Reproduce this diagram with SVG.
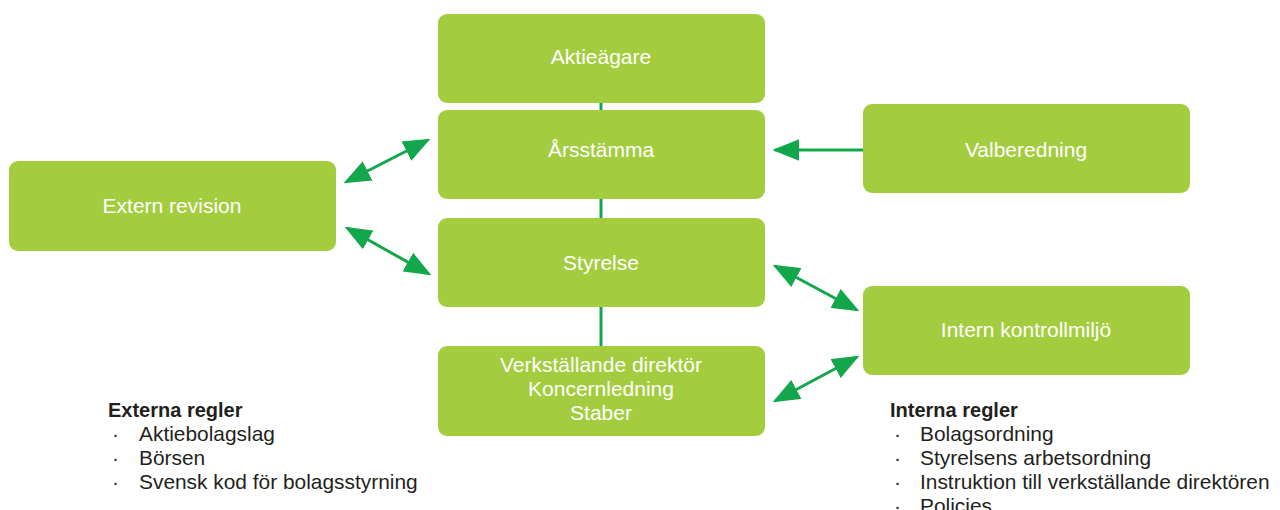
<svg xmlns="http://www.w3.org/2000/svg" width="1280" height="510" viewBox="0 0 1280 510">
<style>
.box{fill:#a3cd3e}
.bt{fill:#ffffff;font-family:"Liberation Sans",Arial,sans-serif;font-size:21px;text-anchor:middle}
.conn{stroke:#12a74b;stroke-width:3;fill:none}
.vl{stroke:#12a74b;stroke-width:3}
.h{fill:#231f20;font-family:"Liberation Sans",Arial,sans-serif;font-size:20px;font-weight:bold}
.li{fill:#231f20;font-family:"Liberation Sans",Arial,sans-serif;font-size:20.9px}
</style>
<defs>
<marker id="ah" viewBox="0 0 10 8" refX="9" refY="4" markerWidth="9" markerHeight="7.2" markerUnits="strokeWidth" orient="auto-start-reverse">
<path d="M0,0 L10,4 L0,8 Z" fill="#12a74b"/>
</marker>
</defs>
<rect width="1280" height="510" fill="#ffffff"/>
<g id="connectors">
<line class="vl" x1="601" y1="103" x2="601" y2="110"/>
<line class="vl" x1="601" y1="199" x2="601" y2="218"/>
<line class="vl" x1="601" y1="307" x2="601" y2="346"/>
<line class="conn" x1="346" y1="182" x2="428" y2="140" marker-start="url(#ah)" marker-end="url(#ah)"/>
<line class="conn" x1="347" y1="228" x2="429" y2="274" marker-start="url(#ah)" marker-end="url(#ah)"/>
<line class="conn" x1="863" y1="150" x2="775" y2="150" marker-end="url(#ah)"/>
<line class="conn" x1="775" y1="266" x2="857" y2="310" marker-start="url(#ah)" marker-end="url(#ah)"/>
<line class="conn" x1="775" y1="401" x2="857" y2="357" marker-start="url(#ah)" marker-end="url(#ah)"/>
</g>
<g id="aktieagare"><rect class="box" x="438" y="14" width="327" height="89" rx="9"/><text class="bt" x="601" y="64">Aktieägare</text></g>
<g id="arsstamma"><rect class="box" x="438" y="110" width="327" height="89" rx="9"/><text class="bt" x="601" y="157">Årsstämma</text></g>
<g id="styrelse"><rect class="box" x="438" y="218" width="327" height="89" rx="9"/><text class="bt" x="601" y="270">Styrelse</text></g>
<g id="vd"><rect class="box" x="438" y="346" width="327" height="90" rx="9"/><text class="bt" x="601" y="372">Verkställande direktör</text><text class="bt" x="601" y="396">Koncernledning</text><text class="bt" x="601" y="420">Staber</text></g>
<g id="extern-revision"><rect class="box" x="9" y="161" width="327" height="90" rx="9"/><text class="bt" x="172" y="213">Extern revision</text></g>
<g id="valberedning"><rect class="box" x="863" y="104" width="327" height="89" rx="9"/><text class="bt" x="1026" y="157">Valberedning</text></g>
<g id="intern-kontrollmiljo"><rect class="box" x="863" y="286" width="327" height="89" rx="9"/><text class="bt" x="1026" y="337">Intern kontrollmiljö</text></g>
<g id="externa-regler">
<text class="h" x="108" y="417">Externa regler</text>
<text class="li" x="112" y="441">·</text><text class="li" x="139" y="441">Aktiebolagslag</text>
<text class="li" x="112" y="465">·</text><text class="li" x="139" y="465">Börsen</text>
<text class="li" x="112" y="489">·</text><text class="li" x="139" y="489">Svensk kod för bolagsstyrning</text>
</g>
<g id="interna-regler">
<text class="h" x="890" y="417">Interna regler</text>
<text class="li" x="894" y="441">·</text><text class="li" x="920" y="441">Bolagsordning</text>
<text class="li" x="894" y="465">·</text><text class="li" x="920" y="465">Styrelsens arbetsordning</text>
<text class="li" x="894" y="489">·</text><text class="li" x="920" y="489">Instruktion till verkställande direktören</text>
<text class="li" x="894" y="513">·</text><text class="li" x="920" y="513">Policies</text>
</g>
</svg>
